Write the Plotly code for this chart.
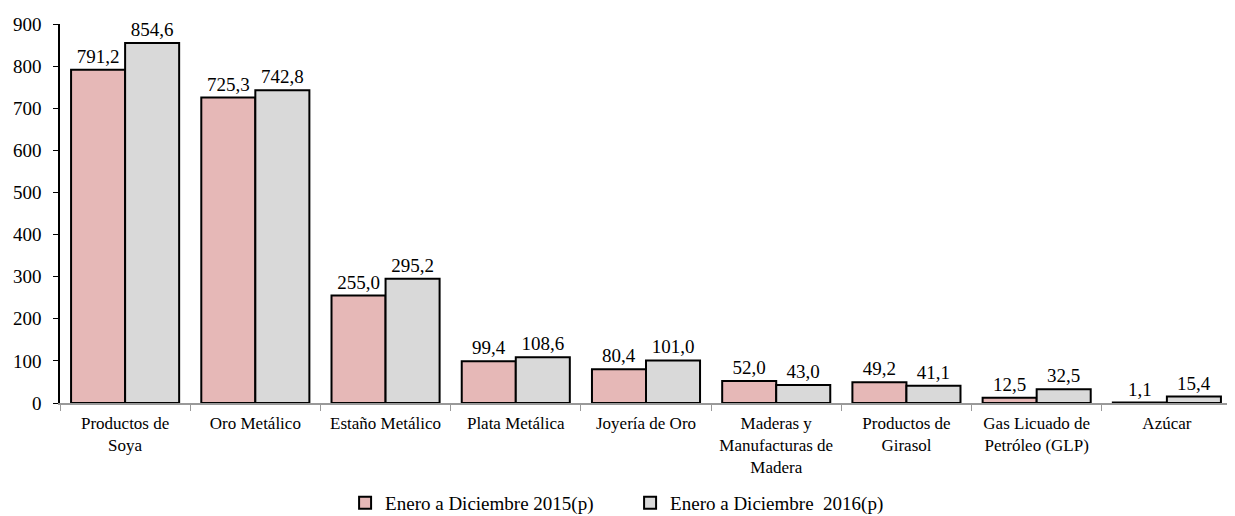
import plotly.graph_objects as go

categories = ["Productos de<br>Soya", "Oro Metálico", "Estaño Metálico", "Plata Metálica",
              "Joyería de Oro", "Maderas y<br>Manufacturas de<br>Madera", "Productos de<br>Girasol",
              "Gas Licuado de<br>Petróleo (GLP)", "Azúcar"]
values_2015 = [791.2, 725.3, 255.0, 99.4, 80.4, 52.0, 49.2, 12.5, 1.1]
values_2016 = [854.6, 742.8, 295.2, 108.6, 101.0, 43.0, 41.1, 32.5, 15.4]
series_names = ["Enero a Diciembre 2015(p)", "Enero a Diciembre\u00a0\u00a02016(p)"]
y_ticks = [0, 100, 200, 300, 400, 500, 600, 700, 800, 900]

FONT = "Liberation Serif"

def fmt(v):
    return f"{v:.1f}".replace(".", ",")

fig = go.Figure()
for name, vals, color in [(series_names[0], values_2015, "#E6B8B7"),
                          (series_names[1], values_2016, "#D9D9D9")]:
    fig.add_trace(go.Bar(
        x=categories, y=vals, name=name,
        marker=dict(color=color, line=dict(color="black", width=2)),
        text=[fmt(v) for v in vals], textposition="outside",
        textfont=dict(family=FONT, size=19, color="black"),
        cliponaxis=False,
    ))

fig.update_layout(
    width=1227, height=508,
    barmode="group", bargap=0.17, bargroupgap=0,
    plot_bgcolor="white", paper_bgcolor="white",
    margin=dict(l=52, r=3, t=16, b=113),
    font=dict(family=FONT, size=15, color="black"),
    showlegend=True,
    legend=dict(orientation="h", x=0.507, xanchor="center", xref="container",
                y=0.026, yanchor="middle", yref="container",
                font=dict(family=FONT, size=19), itemwidth=30,
                entrywidth=240, entrywidthmode="pixels",
                traceorder="normal"),
)
fig.update_yaxes(range=[0, 900], tickvals=y_ticks, showgrid=False,
                 showline=True, linecolor="black", linewidth=1.5,
                 ticks="outside", ticklen=5, tickcolor="black",
                 tickfont=dict(family=FONT, size=19), zeroline=False,
                 ticklabelstandoff=8, automargin=False)
fig.update_xaxes(showline=True, linecolor="#999999", linewidth=1.5,
                 ticks="outside", tickson="boundaries", ticklen=6, tickcolor="#999999",
                 tickfont=dict(family=FONT, size=17), tickangle=0,
                 ticklabelstandoff=4, automargin=False)

fig.write_html("out.html")
